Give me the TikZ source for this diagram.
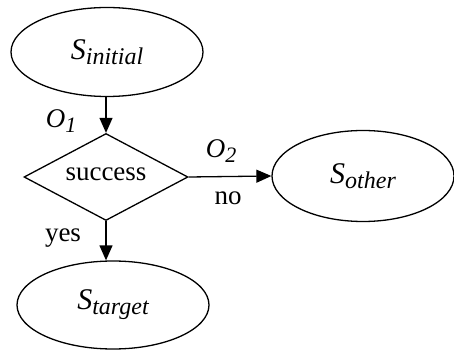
\documentclass[tikz,border=0pt]{standalone}
\usepackage{fontspec}
\setmainfont{Liberation Serif}
\usetikzlibrary{shapes.geometric,arrows.meta}

% italic symbol with a lowered italic subscript
\newcommand{\symsub}[4]{{\itshape\fontsize{#3}{#3}\selectfont #1\raisebox{-5pt}{\fontsize{#4}{#4}\selectfont #2}}}

\begin{document}
\begin{tikzpicture}[x=1pt,y=-1pt,
  state/.style={draw,ellipse,line width=1.3pt,inner sep=0pt},
  test/.style={draw,diamond,line width=1.3pt,inner sep=0pt,minimum width=164pt,minimum height=87pt},
  flow/.style={-{Triangle[length=15pt,width=13pt]},line width=1.3pt},
  lbl/.style={inner sep=0pt,font=\fontsize{27}{30}\selectfont}]
\useasboundingbox (0,0) rectangle (454,352);

\node[state,minimum width=192pt,minimum height=89pt] (init) at (107,52)
  {\symsub{S}{initial}{30}{24}};
% zero-size text box so the diamond keeps its set size
\node[test] (dec) at (106,177)
  {\fontsize{27}{30}\selectfont\smash{\makebox[0pt]{\raisebox{-4pt}{success}}}};
\node[state,minimum width=182pt,minimum height=91pt] (other) at (363,176)
  {\symsub{S}{other}{30}{24}};
\node[state,minimum width=192pt,minimum height=88pt] (tgt) at (113,305)
  {\symsub{S}{target}{30}{24}};

\draw[flow] (dec.north |- init.south) -- (dec.north);
\draw[flow] (dec.east) -- (other.west);
\draw[flow] (dec.south) -- (dec.south |- tgt.north);

\node[lbl] (o1) at (61,121) {\symsub{O}{1}{27}{22}};
\node[lbl] (o2) at (221,151) {\symsub{O}{2}{27}{22}};
\node[lbl] (no) at (228,198) {no};
\node[lbl] (yes) at (63,238) {yes};
\end{tikzpicture}
\end{document}
